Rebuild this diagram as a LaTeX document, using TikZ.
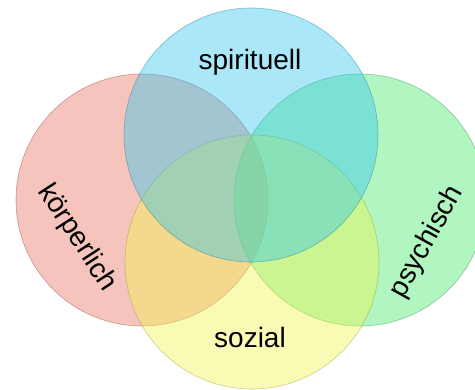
\documentclass[tikz,border=0pt]{standalone}
\usepackage{fontspec}
\setmainfont{Liberation Sans}
\usepackage{tikz}
\definecolor{koerper}{RGB}{232,108,88}
\definecolor{psyche}{RGB}{62,232,102}
\definecolor{sozial}{RGB}{240,246,72}
\definecolor{geist}{RGB}{40,196,242}
\tikzset{
  blob/.style={fill=#1, fill opacity=0.4, draw=#1!60!black, draw opacity=0.45, line width=0.6pt},
  word/.style={font=\fontsize{28}{30}\selectfont, text=black, inner sep=1pt}
}

\begin{document}
\begin{tikzpicture}[x=1pt,y=-1pt]
\useasboundingbox (0,0) rectangle (475,390);
\fill[white] (0,0) rectangle (475,390);
\draw[blob=koerper] (142,200) circle [radius=126];
\draw[blob=psyche] (360,200) circle [radius=126];
\draw[blob=sozial] (252,262) circle [radius=127];
\draw[blob=geist] (251,135) circle [radius=127];
% labels
\node[word] (spi) at (250,62) {spirituell};
\node[word] (soz) at (250,337) {sozial};
\node[word, rotate=-57] (koe) at (77,238) {körperlich};
\node[word, rotate=61] (psy) at (427,242) {psychisch};
\end{tikzpicture}
\end{document}
